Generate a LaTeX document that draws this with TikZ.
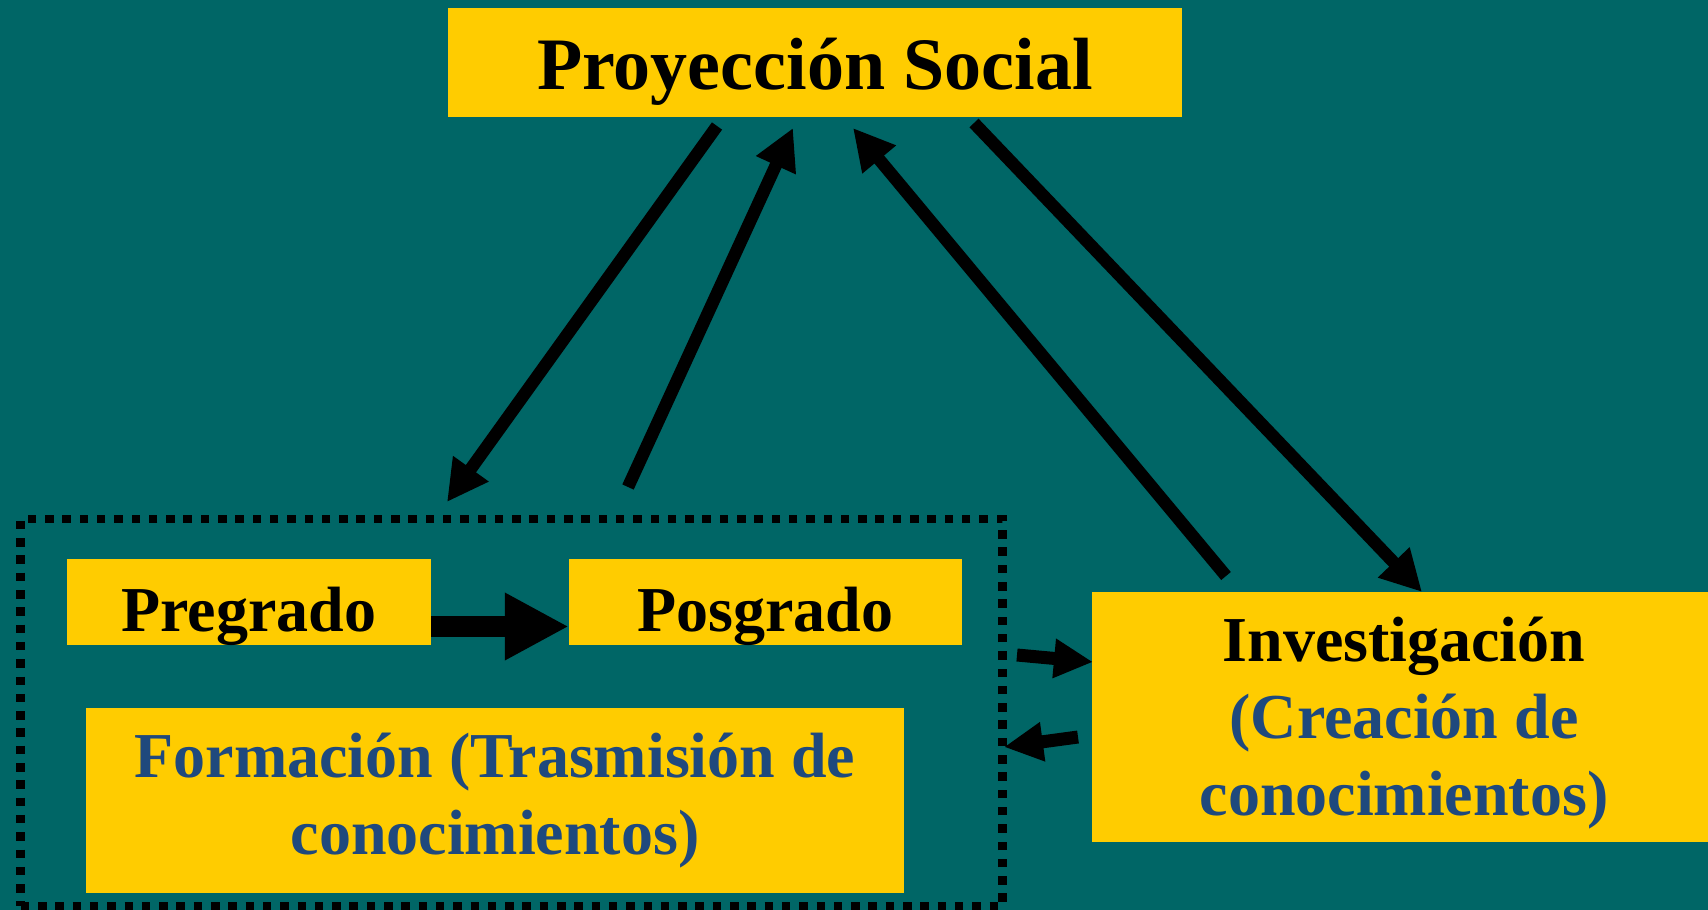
\documentclass[tikz,border=0pt]{standalone}
\usepackage{fontspec}
\setmainfont{Liberation Serif}
\usetikzlibrary{arrows.meta}
\definecolor{bg}{RGB}{0,102,102}
\definecolor{ybox}{RGB}{255,204,0}
\definecolor{tblue}{RGB}{31,73,125}
\begin{document}
\begin{tikzpicture}[x=1pt,y=-1pt,
  box/.style={fill=ybox, inner sep=0pt},
  big/.style={font=\bfseries\fontsize{64}{77}\selectfont},
  lk/.style={line width=12.5pt, -{Triangle[length=41pt,width=41pt]}},
  sk/.style={line width=13pt, -{Triangle[length=39pt,width=37pt]}},
  ]
\fill[bg] (0,0) rectangle (1708,910);
\useasboundingbox (0,0) rectangle (1708,910);

% group frame
\node[draw=black, line width=8.5pt, dash pattern=on 8.5pt off 8.8pt,
      minimum width=982pt, minimum height=387pt, inner sep=0pt] (grp) at (511.7,712.5) {};

% boxes
\node[box, minimum width=734pt, minimum height=109pt, text height=53pt, text depth=0pt,
      font=\bfseries\fontsize{74}{80}\selectfont] (ps) at (815,62.5) {Proyección Social};
\node[box, big, minimum width=364pt, minimum height=86pt, text height=58pt, text depth=0pt] (pre) at (249,602) {Pregrado};
\node[box, big, minimum width=393pt, minimum height=86pt, text height=58pt, text depth=0pt] (pos) at (765.5,602) {Posgrado};
\node[box, big, minimum width=818pt, minimum height=185pt, align=center, text=tblue] (for) at (495,800.5)
  {Formación (Trasmisión de\\conocimientos)};
\node[box, minimum width=616pt, minimum height=250pt] (inv) at (1400,717) {};
\node[big, align=center, text=tblue, inner sep=0pt] (invT) at (1404,723)
  {\textcolor{black}{Investigación}\\(Creación de\\conocimientos)};

% connector end points
\coordinate (a1s) at (717,126); \coordinate (a1e) at (447,502);
\coordinate (a2s) at (628,487); \coordinate (a2e) at (793,128);
\coordinate (a3s) at (1226,576); \coordinate (a3e) at (853,128);
\coordinate (a4s) at (974,123); \coordinate (a4e) at (1422,592);
\coordinate (a5s) at (1017,655); \coordinate (a5e) at (1093,662);
\coordinate (a6s) at (1078,737); \coordinate (a6e) at (1004,747);

\draw[lk] (a1s) -- (a1e);
\draw[lk] (a2s) -- (a2e);
\draw[lk] (a3s) -- (a3e);
\draw[lk] (a4s) -- (a4e);
\draw[sk] (a5s) -- (a5e);
\draw[sk] (a6s) -- (a6e);

\draw[line width=21pt, -{Triangle[length=64pt,width=63pt]}]
  ([yshift=-24.5pt]pre.east) -- ([yshift=-24.5pt]pos.west);
\end{tikzpicture}
\end{document}
